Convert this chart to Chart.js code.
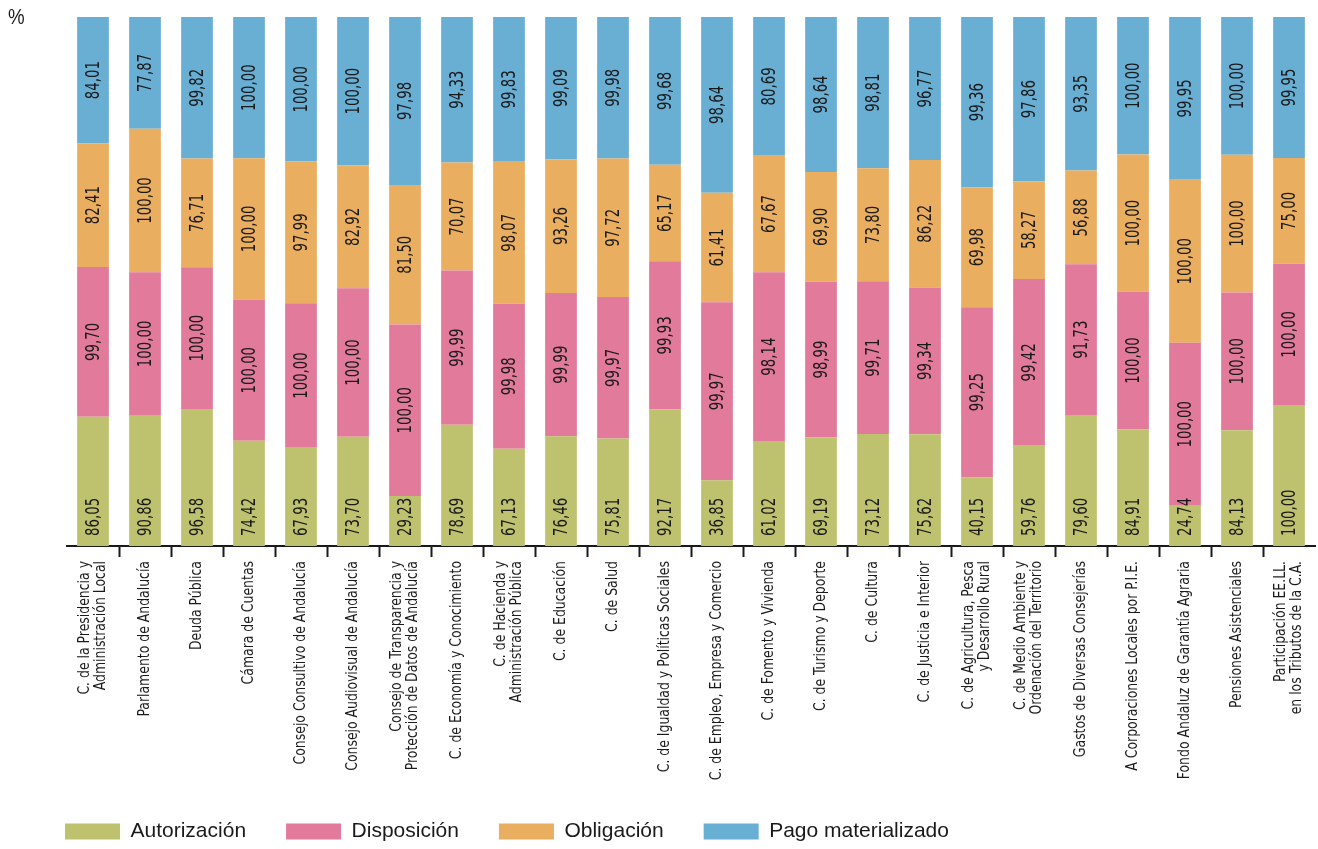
<!DOCTYPE html>
<html lang="es">
<head>
<meta charset="utf-8">
<title>Grado de ejecución por secciones</title>
<script src="https://cdn.jsdelivr.net/npm/chart.js@4/dist/chart.umd.min.js"></script>
<style>
  html, body { margin: 0; padding: 0; background: #fff; overflow: hidden; }
  #wrap { position: relative; width: 1318px; height: 852px; }
</style>
</head>
<body>
<div id="wrap"><canvas id="chart"></canvas></div>
<script>
// Sections (multi-line labels as arrays)
const CATEGORIES = [
  ["C. de la Presidencia y", "Administración Local"],
  ["Parlamento de Andalucía"],
  ["Deuda Pública"],
  ["Cámara de Cuentas"],
  ["Consejo Consultivo de Andalucía"],
  ["Consejo Audiovisual de Andalucía"],
  ["Consejo de Transparencia y", "Protección de Datos de Andalucía"],
  ["C. de Economía y Conocimiento"],
  ["C. de Hacienda y", "Administración Pública"],
  ["C. de Educación"],
  ["C. de Salud"],
  ["C. de Igualdad y Políticas Sociales"],
  ["C. de Empleo, Empresa y Comercio"],
  ["C. de Fomento y Vivienda"],
  ["C. de Turismo y Deporte"],
  ["C. de Cultura"],
  ["C. de Justicia e Interior"],
  ["C. de Agricultura, Pesca", "y Desarrollo Rural"],
  ["C. de Medio Ambiente y", "Ordenación del Territorio"],
  ["Gastos de Diversas Consejerías"],
  ["A Corporaciones Locales por P.I.E."],
  ["Fondo Andaluz de Garantía Agraria"],
  ["Pensiones Asistenciales"],
  ["Participación EE.LL.", "en los Tributos de la C.A."],
]

const AUTORIZACION = [86.05, 90.86, 96.58, 74.42, 67.93, 73.70, 29.23, 78.69, 67.13, 76.46, 75.81, 92.17,
                      36.85, 61.02, 69.19, 73.12, 75.62, 40.15, 59.76, 79.60, 84.91, 24.74, 84.13, 100.00]
const DISPOSICION  = [99.70, 100.00, 100.00, 100.00, 100.00, 100.00, 100.00, 99.99, 99.98, 99.99, 99.97, 99.93,
                      99.97, 98.14, 98.99, 99.71, 99.34, 99.25, 99.42, 91.73, 100.00, 100.00, 100.00, 100.00]
const OBLIGACION   = [82.41, 100.00, 76.71, 100.00, 97.99, 82.92, 81.50, 70.07, 98.07, 93.26, 97.72, 65.17,
                      61.41, 67.67, 69.90, 73.80, 86.22, 69.98, 58.27, 56.88, 100.00, 100.00, 100.00, 75.00]
const PAGO         = [84.01, 77.87, 99.82, 100.00, 100.00, 100.00, 97.98, 94.33, 99.83, 99.09, 99.98, 99.68,
                      98.64, 80.69, 98.64, 98.81, 96.77, 99.36, 97.86, 93.35, 100.00, 99.95, 100.00, 99.95]

const SERIES = ["Autorización", "Disposición", "Obligación", "Pago materializado"]
const COLORS = ["#bec26e", "#e27a9b", "#eaae60", "#69aed3"]

const NARROW = "'DejaVu Sans Condensed', 'DejaVu Sans', sans-serif"
const INK = "#1a1a1a"

// each bar is stacked to 100 %, segments proportional to their own value
const raw = [AUTORIZACION, DISPOSICION, OBLIGACION, PAGO]
const totals = CATEGORIES.map((_, i) => raw.reduce((s, arr) => s + arr[i], 0))

const datasets = raw.map((values, k) => ({
  label: SERIES[k],
  raw: values,
  data: values.map((v, i) => v / totals[i] * 100),
  backgroundColor: COLORS[k],
  borderWidth: 0,
  barPercentage: 0.61,
  categoryPercentage: 1,
}))

const fmt = (v) => v.toFixed(2).replace(".", ",")

// rotated text, squeezed along its own direction to mimic a condensed face
function vText(ctx, text, x, y, squeeze) {
  ctx.save()
  ctx.translate(x, y)
  ctx.rotate(-Math.PI / 2)
  ctx.scale(squeeze, 1)
  ctx.fillText(text, 0, 0)
  ctx.restore()
}

const valueLabels = {
  id: "valueLabels",
  afterDatasetsDraw(chart) {
    const ctx = chart.ctx
    ctx.save()
    ctx.fillStyle = INK
    ctx.font = `20px ${NARROW}`
    ctx.textBaseline = "middle"
    chart.data.datasets.forEach((ds, k) => {
      const first = k === 0
      ctx.textAlign = first ? "left" : "center"
      chart.getDatasetMeta(k).data.forEach((bar, i) => {
        const y = first ? bar.base - 10 : (bar.y + bar.base) / 2
        vText(ctx, fmt(ds.raw[i]), bar.x + 1, y, 0.74)
      })
    })
    ctx.restore()
  },
  afterDraw(chart) {
    const ctx = chart.ctx
    const x = chart.scales.x
    ctx.save()
    ctx.fillStyle = INK
    ctx.font = `16px ${NARROW}`
    ctx.textBaseline = "middle"
    ctx.textAlign = "right"
    CATEGORIES.forEach((lines, i) => {
      const cx = x.getPixelForValue(i)
      lines.forEach((line, j) => {
        vText(ctx, line, cx + (j - (lines.length - 1) / 2) * 16.5, x.top + 15, 0.865)
      })
    })
    // unit mark
    ctx.font = "22px 'Liberation Sans', Arial, sans-serif"
    ctx.textAlign = "left"
    ctx.textBaseline = "alphabetic"
    ctx.translate(8, 24)
    ctx.scale(0.85, 1)
    ctx.fillText("%", 0, 0)
    ctx.restore()
  },
}

new Chart(document.getElementById("chart"), {
  type: "bar",
  data: { labels: CATEGORIES, datasets },
  options: {
    responsive: true,
    maintainAspectRatio: false,
    animation: false,
    layout: { padding: { top: 17, left: 25, right: 3, bottom: 0 } },
    scales: {
      x: {
        stacked: true,
        offset: true,
        grid: {
          offset: true,
          drawOnChartArea: false,
          tickLength: 11,
          tickWidth: 2,
          tickColor: (c) => (c.type !== "tick" || c.index === 0) ? "rgba(0,0,0,0)" : INK,
        },
        border: { color: INK, width: 2 },
        ticks: { display: false },
        afterFit: (s) => { s.height = 235 },
      },
      y: {
        stacked: true,
        min: 0,
        max: 100,
        grid: { display: false },
        border: { display: false },
        ticks: { display: false },
        afterFit: (s) => { s.width = 42 },
      },
    },
    plugins: {
      legend: {
        position: "bottom",
        align: "start",
        labels: {
          boxWidth: 55,
          boxHeight: 16,
          padding: 40,
          color: INK,
          font: { family: "'Liberation Sans', Arial, sans-serif", size: 21 },
        },
      },
      tooltip: { enabled: false },
    },
  },
  plugins: [valueLabels],
})
</script>
</body>
</html>
